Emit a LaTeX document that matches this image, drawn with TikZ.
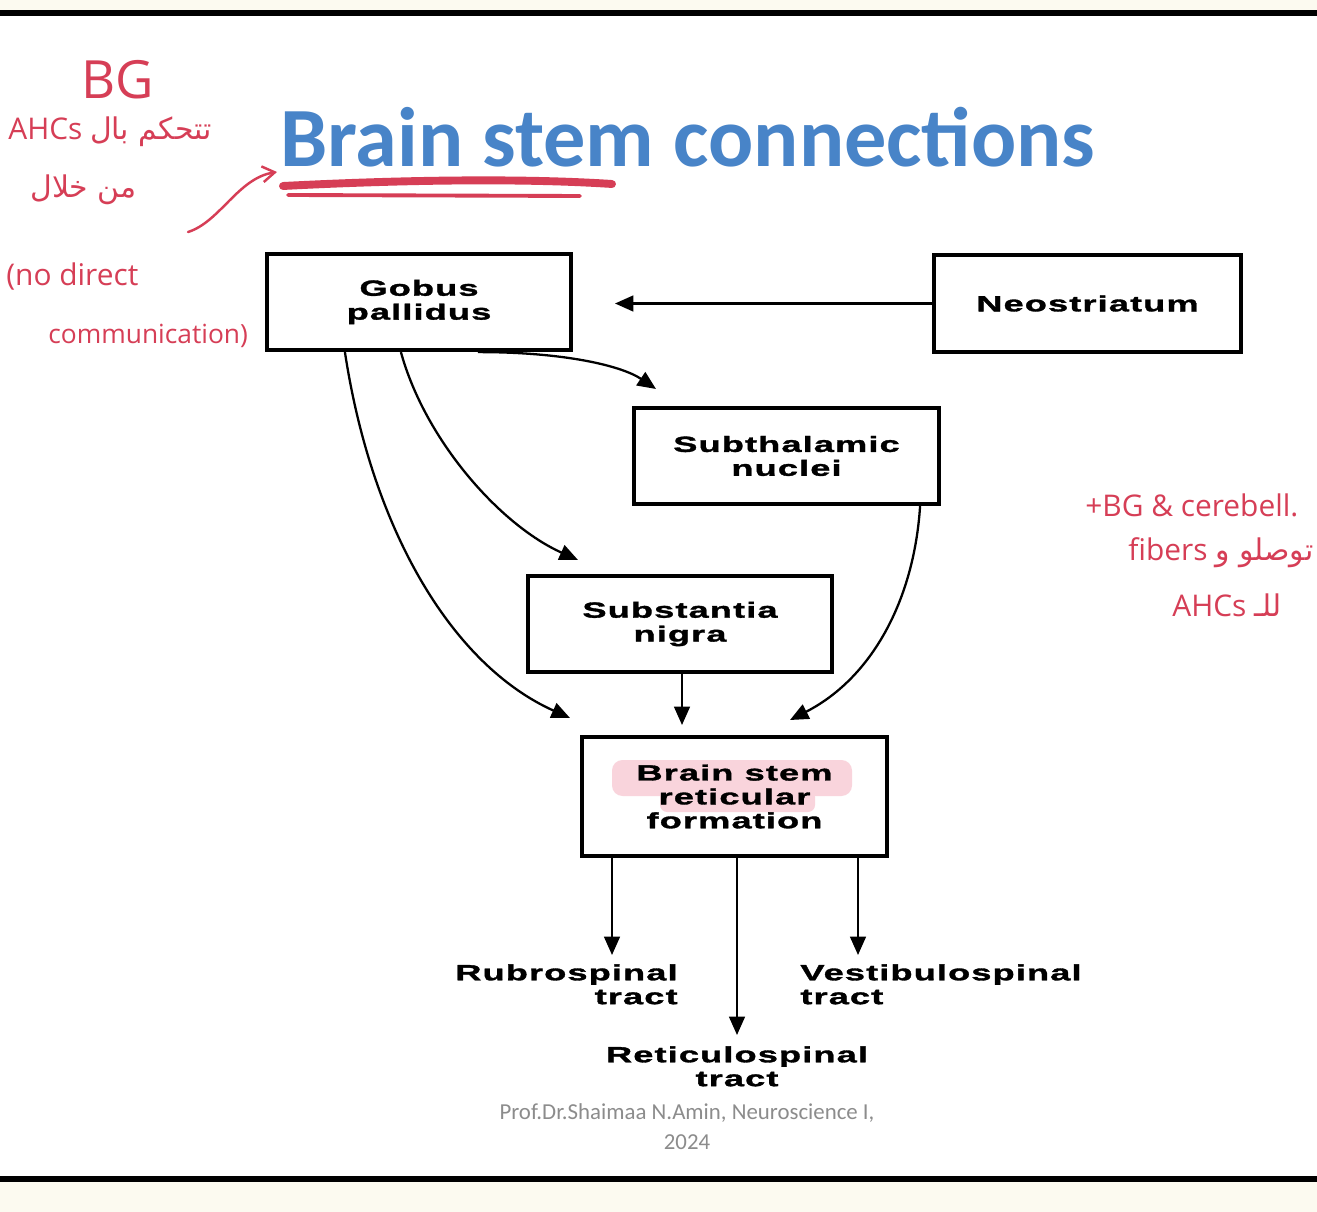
\documentclass[tikz,border=0pt]{standalone}
\usepackage{fontspec}
\usetikzlibrary{arrows.meta,calc}
\TeXXeTstate=1
\newfontfamily\titlefont{Carlito}
\newfontfamily\boxfont[FakeStretch=1.65,LetterSpace=5,FakeBold=1.5]{Liberation Sans}
\newfontfamily\footfont{Carlito}
\newfontfamily\handfont{Open Sans}
\newfontfamily\arabicfont[Script=Arabic]{DejaVu Sans}
\newcommand\boxtxt{\boxfont\bfseries\fontsize{12.5}{13.6}\selectfont}
\definecolor{titleblue}{RGB}{72,132,200}
\definecolor{handred}{RGB}{214,62,86}
\definecolor{cream}{RGB}{252,250,240}
\definecolor{hilite}{RGB}{249,212,220}
\definecolor{footgray}{RGB}{140,140,140}
\begin{document}
\begin{tikzpicture}[x=0.02cm,y=-0.02cm,
  box/.style={draw=black,line width=2.4pt,inner sep=0pt,align=center,font=\boxtxt},
  lbl/.style={inner sep=0pt,font=\boxtxt},
  arr/.style={line width=1.3pt,-{Triangle[length=10.5pt,width=9pt]}},
  handtxt/.style={inner sep=0pt,text=handred,font=\handfont\fontsize{17}{20}\selectfont},
  handline/.style={draw=handred,line cap=round}]
\useasboundingbox (0,0) rectangle (1317,1212);
% background and frame
\fill[cream] (0,0) rectangle (1317,1212);
\fill[white] (0,16) rectangle (1317,1176);
\draw[line width=3.2pt] (0,13) -- (1317,13);
\draw[line width=3.2pt] (0,1179) -- (1317,1179);
% title
\node[anchor=base west,inner sep=0pt,text=titleblue,font=\titlefont\bfseries\fontsize{48}{48}\selectfont] (title) at (280,167) {Brain stem connections};
\draw[handline,line width=4.5pt] (283,186) .. controls (400,180) and (520,178) .. (612,184);
\draw[handline,line width=2.2pt] (288,195) -- (580,196);
% highlight in reticular formation box
\fill[hilite,rounded corners=6pt] (612,760) rectangle (852,796);
\fill[hilite,rounded corners=4pt] (660,790) rectangle (815,812);
% boxes
\node[box,minimum width=6.08cm,minimum height=1.92cm] (gp) at (419,302) {Gobus\\pallidus};
\node[box,minimum width=6.14cm,minimum height=1.94cm] (neo) at (1087.5,303.5) {Neostriatum};
\node[box,minimum width=6.10cm,minimum height=1.92cm] (sth) at (786.5,456) {Subthalamic\\nuclei};
\node[box,minimum width=6.08cm,minimum height=1.92cm] (sn) at (680,624) {Substantia\\nigra};
\node[box,minimum width=6.10cm,minimum height=2.38cm] (bsrf) at (734.5,796.5) {Brain stem\\reticular\\formation};
% connector end points
\coordinate (gpin) at (615,303.5);
\coordinate (sthin) at (656,389);
\coordinate (snin) at (578,560);
\coordinate (bsin1) at (570,718);
\coordinate (bsin2) at (682,725);
\coordinate (bsin3) at (790,720);
\coordinate (rubroin) at (612,955);
\coordinate (retin) at (737,1035);
\coordinate (vestin) at (858,955);
% connectors
\draw[arr] (neo.west) -- (gpin);
\draw[arr] ($(gp.south west)+(213,0)$) .. controls (565,352) and (622,366) .. (sthin);
\draw[arr] ($(gp.south west)+(136,0)$) .. controls (425,440) and (500,525) .. (snin);
\draw[arr] ($(gp.south west)+(80,0)$) .. controls (372,530) and (452,665) .. (bsin1);
\draw[arr] (sn.south -| bsin2) -- (bsin2);
\draw[arr] ($(sth.south east)+(-21,0)$) .. controls (914,600) and (872,678) .. (bsin3);
\draw[arr] (bsrf.south -| rubroin) -- (rubroin);
\draw[arr] (bsrf.south -| retin) -- (retin);
\draw[arr] (bsrf.south -| vestin) -- (vestin);
% tract labels
\node[lbl,anchor=north east,align=right] (rubro) at (678,964) {Rubrospinal\\tract};
\node[lbl,anchor=north west,align=left] (vest) at (800,964) {Vestibulospinal\\tract};
\node[lbl,anchor=north,align=center] (reti) at (737,1046) {Reticulospinal\\tract};
% footer
\node[inner sep=0pt,align=center,text=footgray,font=\footfont\fontsize{13}{17}\selectfont] (foot) at (687,1127) {Prof.Dr.Shaimaa N.Amin, Neuroscience I,\\2024};
% handwritten annotations
\node[handtxt,font=\handfont\fontsize{30}{30}\selectfont] (bg) at (118,80) {BG};
\node[handtxt,anchor=west] (ahcs) at (8,132) {AHCs {\arabicfont\beginR تتحكم بال\endR}};
\node[handtxt,anchor=west] (through) at (30,190) {\arabicfont\beginR من خلال\endR};
\draw[handline,line width=1.4pt,-{Straight Barb[length=7pt,width=9pt]}] (188,232) .. controls (220,222) and (238,178) .. (277,172);
\node[handtxt,anchor=west] (nodirect) at (6,277) {(no direct};
\node[handtxt,anchor=west,font=\handfont\fontsize{15}{18}\selectfont] (comm) at (48,336) {communication)};
\node[handtxt,anchor=west] (note1) at (1085,505) {+BG \& cerebell.};
\node[handtxt,anchor=west] (note2) at (1128,553) {fibers {\arabicfont\beginR توصلو و\endR}};
\node[handtxt,anchor=west] (note3) at (1172,605) {AHCs {\arabicfont\beginR للـ\endR}};
\end{tikzpicture}
\end{document}
